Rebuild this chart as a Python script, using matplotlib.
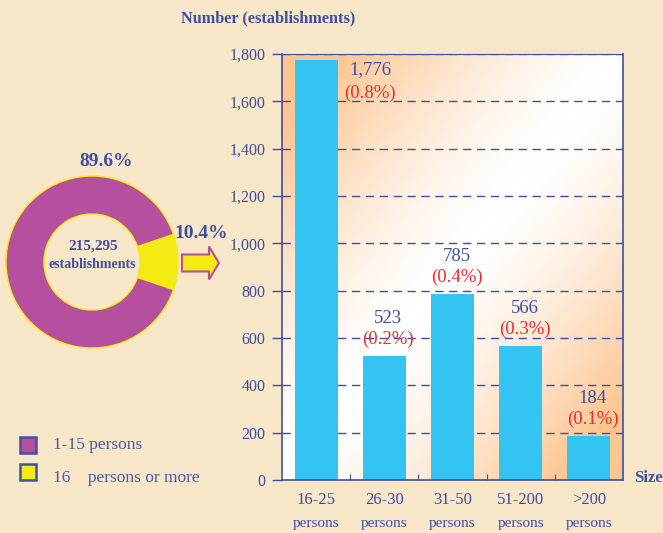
import numpy as np
import matplotlib
matplotlib.use("Agg")
import matplotlib.pyplot as plt
from matplotlib.patches import FancyArrow, Rectangle
from matplotlib.colors import LinearSegmentedColormap

# ---- data ----
categories = ["16-25", "26-30", "31-50", "51-200", ">200"]
cat_sub = ["persons"] * 5
counts = [1776, 523, 785, 566, 184]
count_labels = ["1,776", "523", "785", "566", "184"]
pct_labels = ["(0.8%)", "(0.2%)", "(0.4%)", "(0.3%)", "(0.1%)"]
yticks = [0, 200, 400, 600, 800, 1000, 1200, 1400, 1600, 1800]
ytick_labels = ["0", "200", "400", "600", "800", "1,000", "1,200", "1,400", "1,600", "1,800"]

donut_values = [10.4, 89.6]          # 16+ persons, 1-15 persons
donut_labels = ["10.4%", "89.6%"]
total_label = "215,295"
legend_labels = ["1-15 persons", "16    persons or more"]

# ---- styles ----
BG = "#F8E6C9"
BLUE = "#3E4FA2"
RED = "#EC2B30"
BAR = "#33C4F2"
PURPLE = "#B5509F"
YELLOW = "#F6EA14"
SERIF = ["Liberation Serif", "DejaVu Serif"]
plt.rcParams["font.family"] = SERIF

W, H = 663, 533
fig = plt.figure(figsize=(W / 100, H / 100), dpi=100, facecolor=BG)

# ---- bar chart ----
ax = fig.add_axes([282 / W, 1 - 480 / H, (623 - 282) / W, (480 - 54) / H])
ax.set_xlim(-0.5, 4.5)
ax.set_ylim(0, 1800)

# gradient background
nx, ny = 300, 300
xg = np.linspace(0, 1, nx)
yg = np.linspace(1, 0, ny)
X, Y = np.meshgrid(xg, yg)
G = np.clip(np.abs(X - Y) * 1.2, 0, 1) ** 1.4
cmap = LinearSegmentedColormap.from_list("g", ["#FFFFFF", "#FDC590"])
ax.imshow(G, cmap=cmap, extent=(-0.5, 4.5, 0, 1800), aspect="auto", zorder=0,
          vmin=0, vmax=1)

for yv in yticks[1:]:
    ax.axhline(yv, color=BLUE, lw=1.0, ls=(0, (6, 4)), zorder=1)

x = np.arange(len(categories))
ax.bar(x, counts, width=0.63, color=BAR, zorder=2)

for i, (v, cl, pl) in enumerate(zip(counts, count_labels, pct_labels)):
    if i == 0:
        ax.annotate(cl, (i, v), xytext=(54, -10), textcoords="offset pixels",
                    ha="center", va="center", color=BLUE, fontsize=13.5, zorder=3)
        ax.annotate(pl, (i, v), xytext=(54, -34), textcoords="offset pixels",
                    ha="center", va="center", color=RED, fontsize=13.5, zorder=3)
    else:
        ax.annotate(cl, (i, v), xytext=(4, 38), textcoords="offset pixels",
                    ha="center", va="center", color=BLUE, fontsize=13.5, zorder=3)
        ax.annotate(pl, (i, v), xytext=(4, 17), textcoords="offset pixels",
                    ha="center", va="center", color=RED, fontsize=13.5, zorder=3)

ax.set_yticks(yticks)
ax.set_yticklabels(ytick_labels, color=BLUE, fontsize=11.5)
ax.tick_params(axis="y", length=7, color=BLUE, width=1, pad=5)
ax.set_xticks(np.arange(len(categories) - 1) + 0.5)
ax.set_xticklabels([""] * (len(categories) - 1))
ax.tick_params(axis="x", length=4, color=BLUE, width=0.8, direction="in")
for s in ax.spines.values():
    s.set_color(BLUE)
    s.set_linewidth(1.2)
ax.spines["top"].set_linewidth(0.8)

for i, (c, s) in enumerate(zip(categories, cat_sub)):
    ax.annotate(c, (i, 0), xytext=(0, -20), textcoords="offset pixels",
                ha="center", va="center", color=BLUE, fontsize=12, annotation_clip=False)
    ax.annotate(s, (i, 0), xytext=(0, -44), textcoords="offset pixels",
                ha="center", va="center", color=BLUE, fontsize=11, annotation_clip=False)

fig.text(268 / W, 1 - 18 / H, "Number (establishments)", ha="center", va="center",
         color=BLUE, fontsize=11.7, fontweight="bold")
fig.text(634 / W, 1 - 478 / H, "Size", ha="left", va="center",
         color=BLUE, fontsize=12, fontweight="bold")

# ---- donut ----
cx, cy = 92, 262
dax = fig.add_axes([(cx - 100) / W, (H - cy - 100) / H, 260 / W, 200 / H])
dax.set_xlim(-100, 160)
dax.set_ylim(-100, 100)
dax.set_aspect("equal")
dax.axis("off")
start = -donut_values[0] * 3.6 / 2
dax.pie(donut_values, colors=[YELLOW, PURPLE], radius=86, startangle=start,
        counterclock=True, wedgeprops=dict(width=38, edgecolor=YELLOW, linewidth=1))
dax.set_xlim(-100, 160)
dax.set_ylim(-100, 100)

arrow = FancyArrow(90, -1, 27, 0, width=17, head_width=33, head_length=10,
                   length_includes_head=False, fc=YELLOW, ec=PURPLE, lw=1.5,
                   clip_on=False)
dax.add_patch(arrow)

fig.text(106 / W, 1 - 162 / H, donut_labels[1], ha="center", va="center",
         color=BLUE, fontsize=14, fontweight="bold")
fig.text(201 / W, 1 - 233 / H, donut_labels[0], ha="center", va="center",
         color=BLUE, fontsize=14, fontweight="bold")
fig.text(93 / W, 1 - 246 / H, total_label, ha="center", va="center",
         color=BLUE, fontsize=11, fontweight="bold")
fig.text(92 / W, 1 - 265 / H, "establishments", ha="center", va="center",
         color=BLUE, fontsize=10, fontweight="bold")

# ---- legend ----
for (sy, ty, col, lab) in [(445, 445, PURPLE, legend_labels[0]),
                           (472, 478, YELLOW, legend_labels[1])]:
    fig.patches.append(Rectangle((20 / W, 1 - (sy + 8) / H), 16 / W, 16 / H,
                                 transform=fig.transFigure, fc=col, ec="#3F51A8", lw=1.8))
    fig.text(53 / W, 1 - ty / H, lab, ha="left", va="center",
             color="#4A5AA8", fontsize=12.5)

fig.savefig("out.png", dpi=100, facecolor=BG)
